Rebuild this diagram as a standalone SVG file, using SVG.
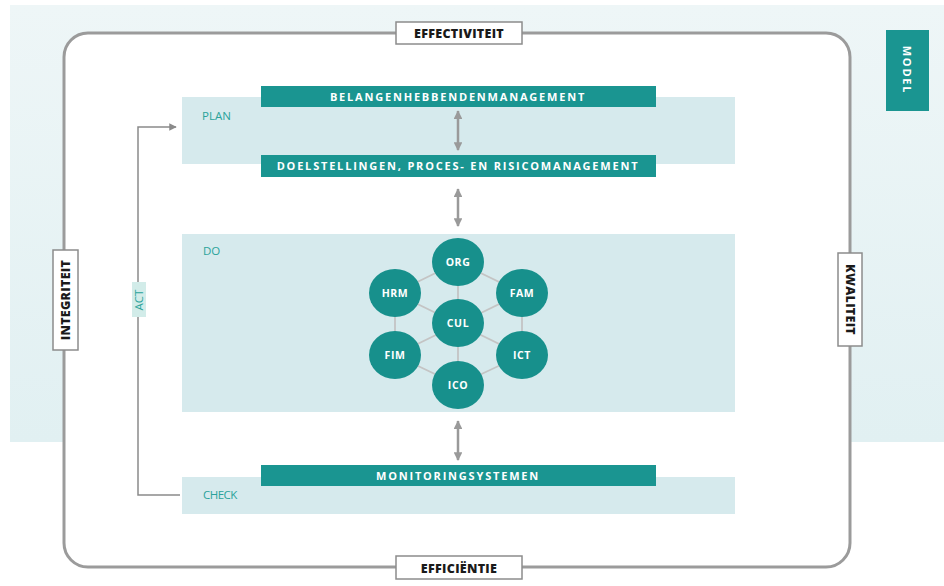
<svg xmlns="http://www.w3.org/2000/svg" width="944" height="586" viewBox="0 0 944 586">
<defs>
<marker id="ah" viewBox="0 0 10 10" refX="9" refY="5" markerWidth="3.5" markerHeight="3.5" orient="auto-start-reverse"><path d="M0,0 L10,5 L0,10 z" fill="#9a9a9a"/></marker>
<marker id="ah2" viewBox="0 0 10 10" refX="9" refY="5" markerWidth="5" markerHeight="5" orient="auto"><path d="M0,0 L10,5 L0,10 z" fill="#8a8a8a"/></marker>
<linearGradient id="bg" x1="0" y1="0" x2="0" y2="1"><stop offset="0" stop-color="#eef6f7"/><stop offset="1" stop-color="#e1f0f2"/></linearGradient>
</defs>
<style>
.band{fill:#d6eaed}
.hdr{fill:#1a9591}
.ht{font-family:"Open Sans","DejaVu Sans",sans-serif;font-weight:700;font-size:11px;fill:#ffffff;letter-spacing:1.8px;text-anchor:middle}
.lab{fill:#ffffff;stroke:#8c8c8c;stroke-width:1.5}
.lt{font-family:"Open Sans","DejaVu Sans",sans-serif;font-weight:800;font-size:12.5px;fill:#1a1a1a;text-anchor:middle;letter-spacing:0.3px}
.ph{font-family:"Open Sans","DejaVu Sans",sans-serif;font-size:11.5px;fill:#2aa39b}
.node ellipse{fill:#17908c}
.nt{font-family:"Open Sans","DejaVu Sans",sans-serif;font-weight:700;font-size:10.5px;fill:#ffffff;text-anchor:middle;letter-spacing:0.6px}
.hex{stroke:#c4c4c4;stroke-width:1.8;fill:none}
.dbl{stroke:#9a9a9a;stroke-width:2.5;fill:none}
</style>
<rect x="0" y="0" width="944" height="586" fill="#ffffff"/>
<rect x="10" y="5" width="934" height="437" fill="url(#bg)"/>
<rect x="64" y="33" width="786" height="534" rx="24" fill="#ffffff" stroke="#9b9b9b" stroke-width="3"/>

<g id="plan">
<rect class="band" x="182" y="97" width="553" height="67"/>
<text class="ph" x="202" y="120">PLAN</text>
</g>
<g id="do">
<rect class="band" x="182" y="234" width="553" height="178"/>
<text class="ph" x="203" y="255">DO</text>
</g>
<g id="check">
<rect class="band" x="182" y="477" width="553" height="37"/>
<text class="ph" x="203" y="499" letter-spacing="-0.5">CHECK</text>
</g>

<g id="connectors">
<line class="dbl" x1="458" y1="111" x2="458" y2="150" marker-start="url(#ah)" marker-end="url(#ah)"/>
<line class="dbl" x1="458" y1="189" x2="458" y2="226" marker-start="url(#ah)" marker-end="url(#ah)"/>
<line class="dbl" x1="458" y1="421" x2="458" y2="460" marker-start="url(#ah)" marker-end="url(#ah)"/>
<path d="M180,495 H138 V127 H176" fill="none" stroke="#8a8a8a" stroke-width="1.5" marker-end="url(#ah2)"/>
<g class="hex">
<polygon points="458,262 522,293 522,355 458,385 395,355 395,293"/>
<line x1="458" y1="262" x2="458" y2="385"/>
<line x1="395" y1="293" x2="522" y2="355"/>
<line x1="522" y1="293" x2="395" y2="355"/>
</g>
</g>

<g id="act">
<rect x="132" y="282" width="14" height="35" fill="#d2ece9"/>
<text transform="translate(143,300) rotate(-90)" class="ph" text-anchor="middle" font-size="12">ACT</text>
</g>

<g id="belangen">
<rect class="hdr" x="261" y="86" width="395" height="21"/>
<text class="ht" x="458" y="100.5">BELANGENHEBBENDENMANAGEMENT</text>
</g>
<g id="doelstellingen">
<rect class="hdr" x="261" y="155" width="395" height="22"/>
<text class="ht" x="458" y="170">DOELSTELLINGEN, PROCES- EN RISICOMANAGEMENT</text>
</g>
<g id="monitoring">
<rect class="hdr" x="261" y="465" width="395" height="21"/>
<text class="ht" x="458" y="480">MONITORINGSYSTEMEN</text>
</g>

<g id="n-org" class="node"><ellipse cx="458" cy="262" rx="26" ry="24"/><text class="nt" x="458" y="266">ORG</text></g>
<g id="n-fam" class="node"><ellipse cx="522" cy="293" rx="26" ry="24"/><text class="nt" x="522" y="297">FAM</text></g>
<g id="n-ict" class="node"><ellipse cx="522" cy="355" rx="26" ry="24"/><text class="nt" x="522" y="359">ICT</text></g>
<g id="n-ico" class="node"><ellipse cx="458" cy="385" rx="26" ry="24"/><text class="nt" x="458" y="389">ICO</text></g>
<g id="n-fim" class="node"><ellipse cx="395" cy="355" rx="26" ry="24"/><text class="nt" x="395" y="359">FIM</text></g>
<g id="n-hrm" class="node"><ellipse cx="395" cy="293" rx="26" ry="24"/><text class="nt" x="395" y="297">HRM</text></g>
<g id="n-cul" class="node"><ellipse cx="458" cy="323" rx="26" ry="24"/><text class="nt" x="458" y="327">CUL</text></g>

<g id="effectiviteit">
<rect class="lab" x="396" y="22" width="126" height="22"/>
<text class="lt" x="459" y="37.5">EFFECTIVITEIT</text>
</g>
<g id="efficientie">
<rect class="lab" x="396" y="556" width="126" height="23"/>
<text class="lt" x="459" y="572.5">EFFICIËNTIE</text>
</g>
<g id="integriteit">
<rect class="lab" x="53" y="250" width="25" height="100"/>
<text class="lt" transform="translate(70,300) rotate(-90)">INTEGRITEIT</text>
</g>
<g id="kwaliteit">
<rect class="lab" x="838" y="253" width="24" height="93"/>
<text class="lt" transform="translate(845.5,299.5) rotate(90)">KWALITEIT</text>
</g>
<g id="model">
<rect x="886" y="30" width="43" height="81" fill="#1a9591"/>
<text class="ht" transform="translate(903,70) rotate(90)" font-size="10.5" letter-spacing="1.5">MODEL</text>
</g>
</svg>
